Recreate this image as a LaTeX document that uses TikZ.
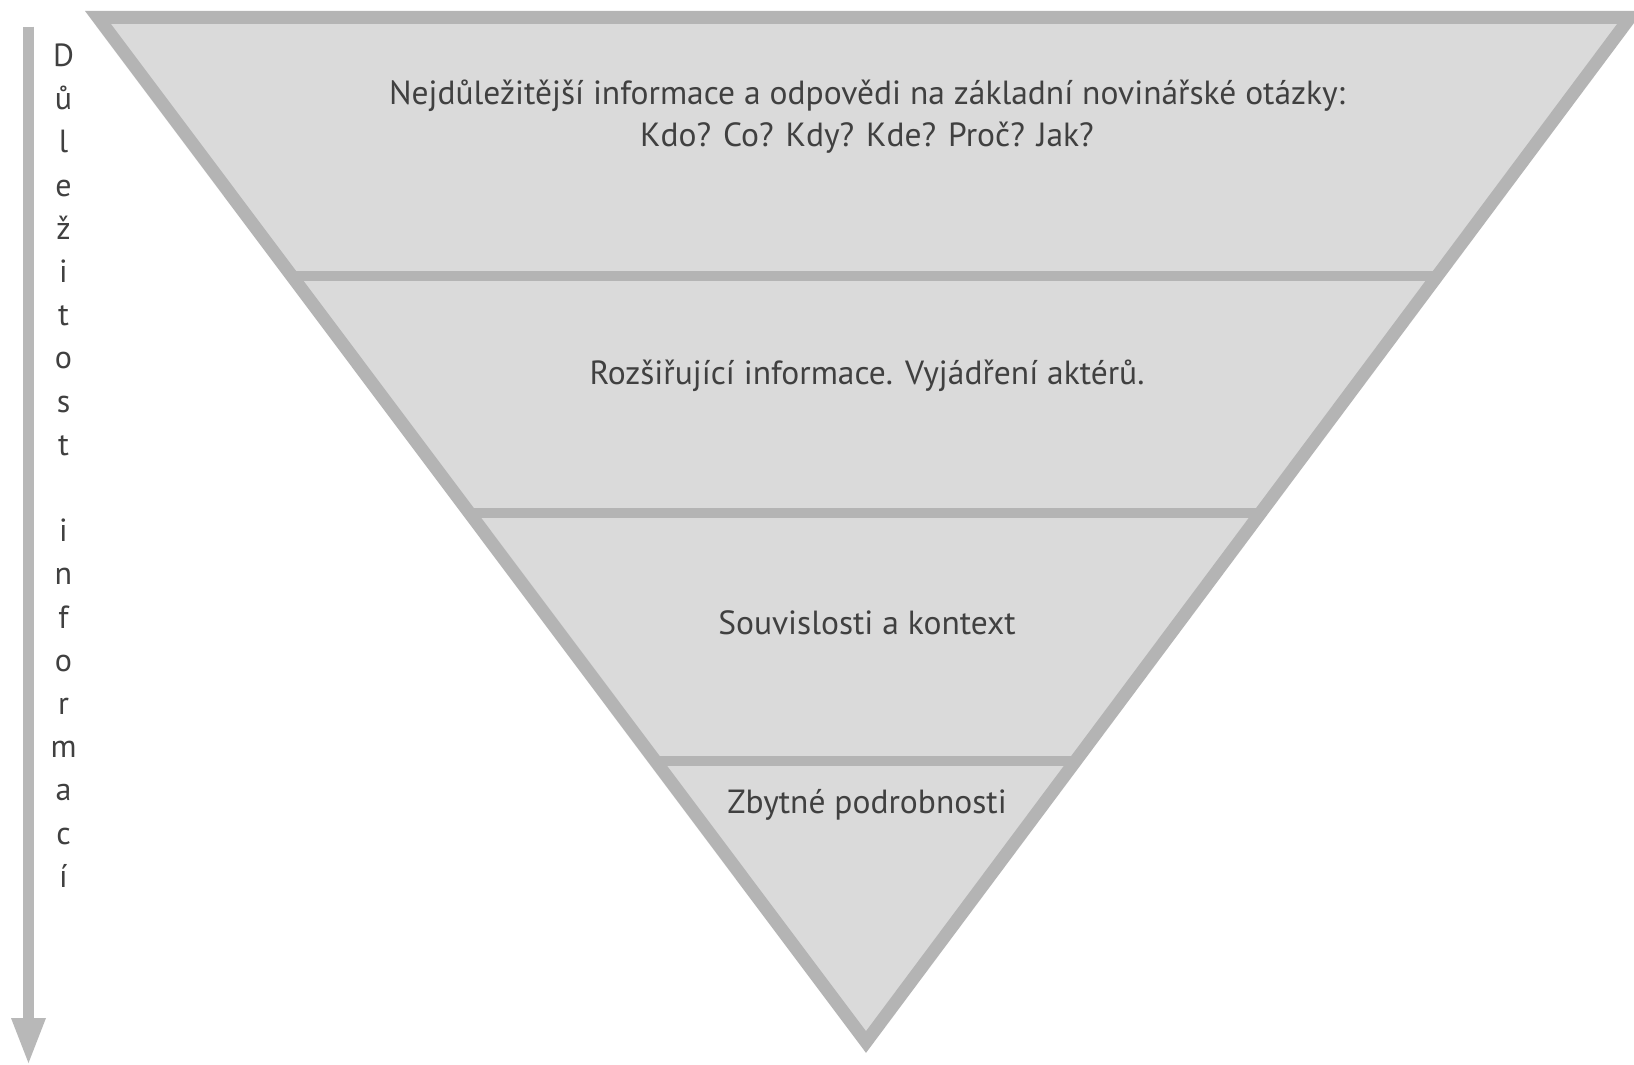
\documentclass[tikz,border=0pt]{standalone}
\usepackage{fontspec}
\setmainfont{PT Sans}
\usetikzlibrary{calc}
\definecolor{band}{HTML}{B4B4B4}
\definecolor{fillg}{HTML}{DADADA}
\definecolor{arrowg}{HTML}{B8B8B8}
\definecolor{txt}{HTML}{404040}
\begin{document}
\begin{tikzpicture}[x=1pt,y=-1pt,
  lbl/.style={anchor=base,inner sep=0pt,text=txt,font=\fontsize{33.5}{40}\selectfont},
  vlet/.style={anchor=base,inner sep=0pt,text=txt,font=\fontsize{32}{38}\selectfont},
  border/.style={draw=band,line width=13pt,line join=miter,miter limit=10},
  divider/.style={draw=band,line width=10pt}]
\useasboundingbox (0,0) rectangle (1634,1065);
\fill[white] (0,0) rectangle (1634,1065);
% triangle
\coordinate (tl) at (98,17.5);
\coordinate (tr) at (1630,17.5);
\coordinate (tip) at (866,1042);
\fill[fillg] (tl) -- (tr) -- (tip) -- cycle;
\begin{scope}
  \clip (tl) -- (tr) -- (tip) -- cycle;
  \coordinate (d1l) at (0,276);   \coordinate (d1r) at (1634,276);
  \coordinate (d2l) at (0,513);   \coordinate (d2r) at (1634,513);
  \coordinate (d3l) at (0,761);   \coordinate (d3r) at (1634,761);
  \draw[divider] (d1l) -- (d1r);
  \draw[divider] (d2l) -- (d2r);
  \draw[divider] (d3l) -- (d3r);
\end{scope}
\draw[border] (tl) -- (tr) -- (tip) -- cycle;
% texts
\node[lbl] (t1a) at (867,104) {Nejdůležitější informace a odpovědi na základní novinářské otázky:};
\node[lbl] (t1b) at (867,146) {Kdo? Co? Kdy? Kde? Proč? Jak?};
\node[lbl] (t2) at (867,384) {Rozšiřující informace. Vyjádření aktérů.};
\node[lbl] (t3) at (867,634) {Souvislosti a kontext};
\node[lbl] (t4) at (867,813) {Zbytné podrobnosti};
% arrow
\coordinate (atop) at (28.5,26.7);
\coordinate (abot) at (28.5,1063);
\draw[draw=arrowg,line width=11.6pt] (atop) -- ($(abot)+(0,-44)$);
\fill[arrowg] (abot) -- ++(-17.5,-45) -- ++(35,0) -- cycle;
% vertical label
\foreach \ch/\k in {D/0,ů/1,l/2,e/3,ž/4,i/5,t/6,o/7,s/8,t/9,i/11,n/12,f/13,o/14,r/15,m/16,a/17,c/18,í/19}
  \node[vlet] (v\k) at (63.5,66.5+43.2*\k) {\ch};
\end{tikzpicture}
\end{document}
